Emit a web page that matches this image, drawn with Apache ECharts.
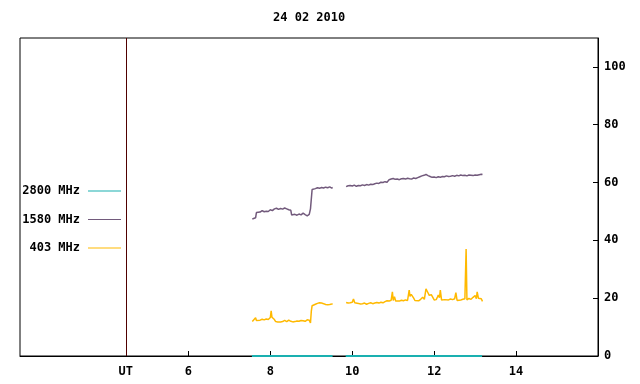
<!DOCTYPE html>
<html>
<head>
<meta charset="utf-8">
<script src="https://cdn.jsdelivr.net/npm/echarts@6/dist/echarts.min.js"></script>
<style>
  html, body { margin: 0; padding: 0; background: #fff; }
  #radioChart { width: 640px; height: 384px; }
</style>
</head>
<body>
<div id="radioChart"></div>
<script>
// hours UT, flux values (null = data gap)
var t1580 = [7.56,7.60,7.64,7.66,7.70,7.75,7.80,7.85,7.90,7.95,8.00,8.05,8.10,8.15,8.20,8.25,8.30,8.35,8.40,8.45,8.50,
    8.52,8.56,8.60,8.65,8.70,8.75,8.80,8.85,8.90,8.95,8.98,9.00,9.02,9.05,9.10,9.15,9.20,9.25,9.30,9.35,9.40,9.45,9.50,9.52,
    9.70,
    9.85,9.90,9.95,10.00,10.05,10.10,10.15,10.20,10.25,10.30,10.35,10.40,10.45,10.50,10.55,10.60,10.65,10.70,10.75,10.80,10.85,
    10.90,10.95,11.00,11.05,11.10,11.15,11.20,11.25,11.30,11.35,11.40,11.45,11.50,11.55,11.60,11.65,11.70,11.75,11.80,11.85,
    11.90,11.95,12.00,12.05,12.10,12.15,12.20,12.25,12.30,12.35,12.40,12.45,12.50,12.55,12.60,12.65,12.70,12.75,12.80,12.85,
    12.90,12.95,13.00,13.05,13.10,13.15,13.18];
var v1580 = [47.4,47.6,47.8,49.6,50.2,49.8,50.3,49.9,50.1,50.0,50.6,50.3,50.9,51.1,50.7,51.0,50.8,51.2,50.9,50.6,50.4,
    48.8,48.6,49.0,48.7,49.1,48.8,49.4,48.9,48.5,49.0,50.9,51.3,57.6,58.0,57.9,58.2,58.0,58.3,58.1,58.4,58.2,58.5,58.1,58.3,
    null,
    58.6,58.9,59.0,58.8,59.1,58.7,59.0,58.9,59.2,59.0,59.3,59.1,59.4,59.3,59.6,59.8,59.7,60.1,60.0,60.3,60.1,
    61.0,61.2,61.4,61.1,61.2,61.0,61.3,61.4,61.2,61.5,61.3,61.2,61.6,61.4,61.7,62.0,62.3,62.5,62.8,62.4,
    62.1,61.8,61.9,61.7,62.0,61.8,62.1,62.0,62.3,62.1,62.2,62.4,62.2,62.5,62.3,62.6,62.4,62.5,62.3,62.6,
    62.5,62.4,62.6,62.5,62.7,62.9,62.8];

var t403 = [7.56,7.60,7.64,7.66,7.70,7.75,7.80,7.85,7.90,7.95,8.00,8.02,8.04,8.07,8.10,8.13,8.18,8.25,8.30,8.35,8.40,
    8.45,8.50,8.55,8.60,8.65,8.70,8.75,8.80,8.85,8.90,8.95,8.98,9.00,9.02,9.05,9.10,9.15,9.20,9.25,9.30,9.35,9.40,9.45,9.50,9.52,
    9.70,
    9.85,9.90,9.95,10.00,10.03,10.06,10.10,10.15,10.20,10.25,10.30,10.35,10.40,10.45,10.50,10.55,10.60,10.65,10.70,10.75,
    10.80,10.85,10.90,10.95,10.98,11.00,11.03,11.06,11.10,11.15,11.20,11.25,11.30,11.35,11.39,11.41,11.44,11.47,11.50,11.53,
    11.57,11.62,11.67,11.72,11.76,11.80,11.83,11.85,11.88,11.90,11.93,11.96,12.00,12.02,12.05,12.08,12.10,12.13,12.15,12.18,
    12.22,12.26,12.30,12.35,12.40,12.45,12.50,12.53,12.56,12.60,12.65,12.70,12.75,12.78,12.80,12.85,12.90,12.95,13.00,13.03,
    13.05,13.08,13.12,13.15,13.18];
var v403 = [11.9,12.0,13.2,12.3,12.5,12.4,12.7,12.5,12.8,12.6,13.3,15.6,13.4,13.6,12.6,11.9,11.8,11.8,11.9,12.3,11.9,
    12.4,12.0,11.8,11.9,12.1,12.0,12.3,12.2,12.0,12.5,12.4,11.4,15.4,17.4,17.6,17.9,18.2,18.4,18.3,18.1,17.8,17.7,17.8,18.0,18.1,
    null,
    18.5,18.3,18.4,18.6,19.7,18.4,17.9,18.2,18.0,18.1,18.3,17.9,18.2,18.4,18.1,18.3,18.5,18.3,18.6,18.4,
    18.8,19.1,19.0,19.3,22.2,19.2,20.5,19.0,19.2,19.0,19.3,19.1,19.4,19.2,22.8,20.6,21.3,20.8,20.0,19.2,
    18.9,19.1,19.6,20.3,19.6,23.2,22.4,22.2,21.0,20.6,21.2,20.7,19.4,19.2,19.5,20.4,21.1,20.2,22.8,19.4,
    19.3,19.5,19.2,19.4,19.7,19.5,19.8,21.9,19.2,19.7,19.4,19.6,19.8,37.0,19.4,19.9,19.6,20.3,20.9,19.8,
    22.2,20.0,19.6,19.8,18.9];

var t2800 = [7.55, 9.52, 9.70, 9.84, 13.17];
var v2800 = [0, 0, null, 0, 0];

var xTicks = [6, 8, 10, 12, 14];
var yTicks = [0, 20, 40, 60, 80, 100];
var utLine = 4.47;

function pairs(t, v) {
    var out = [];
    for (var i = 0; i < t.length; i++) {
        out.push([t[i], v[i]]);
    }
    return out;
}

var font = '"DejaVu Sans Mono", monospace';

var option = {
    animation: false,
    backgroundColor: '#fff',
    title: {
        text: '24 02 2010',
        left: 268,
        top: 7,
        textStyle: { fontFamily: font, fontWeight: 'bold', fontSize: 12, color: '#000' }
    },
    legend: {
        data: ['2800 MHz', '1580 MHz', '403 MHz'],
        orient: 'vertical',
        right: 519,
        top: 184,
        padding: 0,
        align: 'right',
        icon: 'rect',
        itemWidth: 33,
        itemHeight: 1,
        itemGap: 14.5,
        selectedMode: false,
        textStyle: { fontFamily: font, fontWeight: 'bold', fontSize: 12, color: '#000', lineHeight: 14, padding: [0, 3, 0, 0] }
    },
    grid: {
        left: 20, right: 42, top: 38, bottom: 28,
        show: true, borderColor: '#000', borderWidth: 1
    },
    xAxis: {
        type: 'value',
        min: 1.888,
        max: 16,
        splitLine: { show: false },
        axisLine: { lineStyle: { color: '#000' } },
        axisTick: { inside: true, length: 5, customValues: xTicks, lineStyle: { color: '#000' } },
        axisLabel: {
            customValues: [utLine].concat(xTicks),
            margin: 10,
            fontFamily: font, fontWeight: 'bold', fontSize: 12, color: '#000',
            formatter: function (v) { return v < 5 ? '{ut|UT}' : String(v); },
            rich: { ut: { fontFamily: font, fontWeight: 'bold', fontSize: 12, color: '#000', padding: [0, 0, 6, 0] } }
        }
    },
    yAxis: {
        type: 'value',
        position: 'right',
        min: 0,
        max: 110,
        splitLine: { show: false },
        axisLine: { show: true, lineStyle: { color: '#000' } },
        axisTick: { show: true, inside: true, length: 5, customValues: yTicks, lineStyle: { color: '#000' } },
        axisLabel: {
            customValues: yTicks,
            margin: 6,
            fontFamily: font, fontWeight: 'bold', fontSize: 12, color: '#000'
        }
    },
    series: [
        {
            name: '2800 MHz',
            type: 'line',
            data: pairs(t2800, v2800),
            showSymbol: false,
            connectNulls: false,
            color: '#1ab0b0',
            lineStyle: { width: 2, color: '#1ab0b0' },
            z: 3,
            markLine: {
                silent: true,
                symbol: 'none',
                label: { show: false },
                lineStyle: { color: '#500000', width: 1, type: 'solid' },
                data: [{ xAxis: utLine }]
            }
        },
        {
            name: '1580 MHz',
            type: 'line',
            data: pairs(t1580, v1580),
            showSymbol: false,
            connectNulls: false,
            color: '#725a7c',
            lineStyle: { width: 1.5, color: '#725a7c' }
        },
        {
            name: '403 MHz',
            type: 'line',
            data: pairs(t403, v403),
            showSymbol: false,
            connectNulls: false,
            color: '#ffb900',
            lineStyle: { width: 1.5, color: '#ffb900' }
        }
    ]
};

var myChart = echarts.init(document.getElementById('radioChart'));
myChart.setOption(option);
</script>
</body>
</html>
